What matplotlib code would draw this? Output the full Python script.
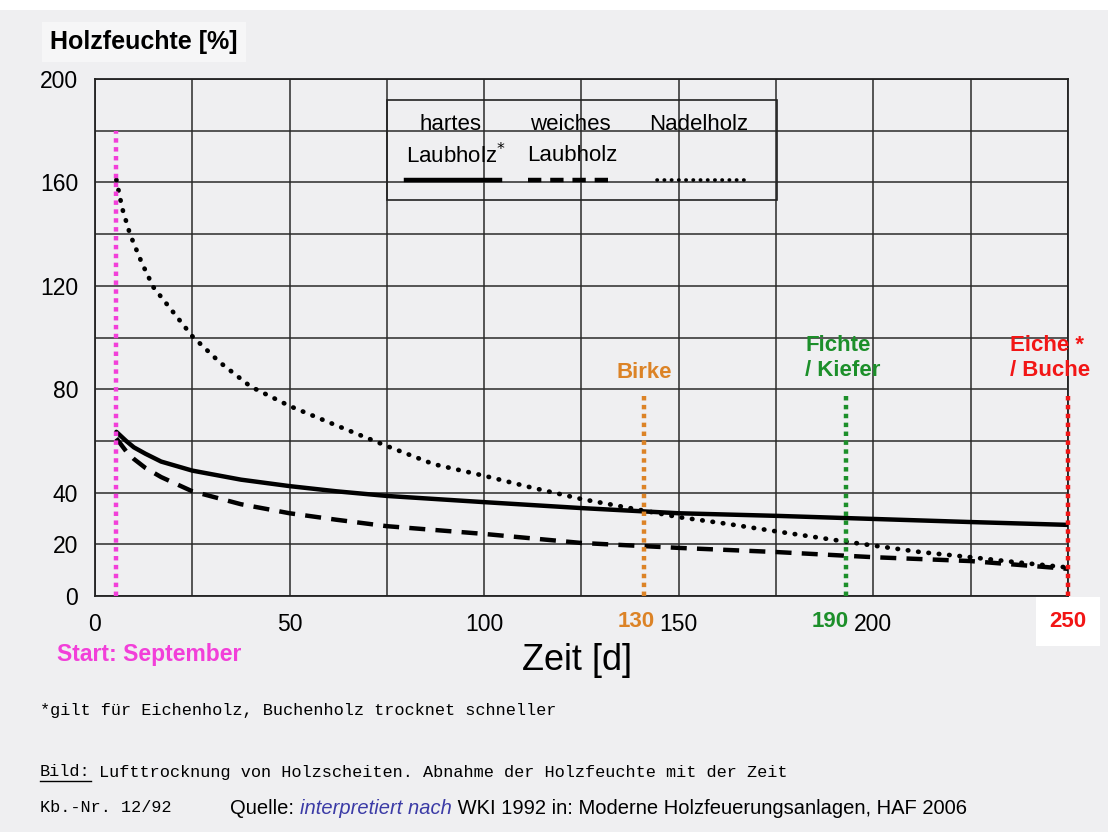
import numpy as np
import matplotlib
matplotlib.use("Agg")
import matplotlib.pyplot as plt
from matplotlib.patches import Rectangle
from matplotlib.lines import Line2D

plt.rcParams['font.family'] = ['Liberation Sans', 'DejaVu Sans']

# ---- data ----
hart_x = [5.5, 8, 10, 13, 17, 25, 37.5, 50, 62, 75, 100, 125, 150, 175, 200, 225, 250]
hart_y = [63.5, 60, 57.5, 55, 52, 48.5, 45, 42.5, 40.5, 38.7, 36.3, 34, 32, 31, 29.8, 28.6, 27.5]

weich_x = [5.5, 8, 10, 13, 17, 25, 37.5, 50, 62, 75, 100, 125, 150, 175, 200, 225, 250]
weich_y = [61, 56, 53, 49.5, 46, 40.5, 35.5, 32, 29.5, 27, 24, 20.5, 18.6, 17, 15, 13.5, 10.5]

nadel_x = [5.5, 7, 9, 12, 15, 20, 25, 32, 40, 50, 62, 75, 87, 100, 112, 125,
           141, 150, 162, 175, 193, 200, 212, 225, 237, 250]
nadel_y = [161, 150, 140, 129, 119.5, 110, 100.5, 90.5, 81, 73.5, 66, 58, 51, 46.5, 42, 37.5,
           33, 30.5, 28, 25, 21, 19.5, 17, 15, 13, 11]

# markers for drying times (as drawn)
start_x = 5.5
marker_x = [141, 193, 250]
marker_top = 79
marker_lbl = ["Birke", "Fichte\n/ Kiefer", "Eiche *\n/ Buche"]
marker_num = ["130", "190", "250"]
marker_col = ["#dc8326", "#1c8f2a", "#f21616"]

x_ticks = np.arange(0, 251, 25)
x_labels = ["0", "", "50", "", "100", "", "150", "", "200", "", ""]
y_ticks = np.arange(0, 201, 20)
y_labels = ["0", "20", "40", "", "80", "", "120", "", "160", "", "200"]

PAPER = "#efeff1"
MAGENTA = "#f23fd9"

fig = plt.figure(figsize=(11.08, 8.32), dpi=100, facecolor=PAPER)
fig.patches.append(Rectangle((0, 0.988), 1, 0.012, transform=fig.transFigure,
                             facecolor="white", edgecolor="none"))

ax = fig.add_axes([0.0857, 0.2837, 0.8782, 0.6213])
ax.set_facecolor(PAPER)
ax.set_xlim(0, 250)
ax.set_ylim(0, 200)
ax.set_xticks(x_ticks)
ax.set_xticklabels(x_labels)
ax.set_yticks(y_ticks)
ax.set_yticklabels(y_labels)
ax.tick_params(length=0, labelsize=16.5)
ax.tick_params(axis="x", pad=12)
ax.tick_params(axis="y", pad=12)
ax.grid(True, color="#2a2a2a", lw=1.1)
ax.set_axisbelow(True)
for s in ax.spines.values():
    s.set_color("#222222")
    s.set_linewidth(1.3)

# curves
ax.plot(hart_x, hart_y, color="black", lw=3.2, solid_capstyle="round", zorder=3)
ax.plot(weich_x, weich_y, color="black", lw=3.2, linestyle=(0, (3.6, 2.3)), zorder=3)
ax.plot(nadel_x, nadel_y, color="black", lw=3.4, linestyle=(0, (0.1, 2.1)),
        dash_capstyle="round", zorder=3)

# vertical marker lines
ax.plot([start_x, start_x], [0, 180], color=MAGENTA, lw=3.2,
        linestyle=(0, (1, 1)), zorder=4)
for mx, col in zip(marker_x, marker_col):
    ax.plot([mx, mx], [0, marker_top], color=col, lw=3.2,
            linestyle=(0, (1, 1)), zorder=4, clip_on=False)

lbl_pos = [(134, 86.6), (182.5, 92.0), (235, 92.0)]
for (lx, ly), txt, col in zip(lbl_pos, marker_lbl, marker_col):
    ax.text(lx, ly, txt, color=col, fontsize=16, fontweight="bold",
            ha="left", va="center", linespacing=1.28, zorder=5)

num_off = [-2, -4, 0]
for mx, off, txt, col in zip(marker_x, num_off, marker_num, marker_col):
    bb = dict(facecolor="white", edgecolor="none", pad=10) if txt == "250" else None
    ax.annotate(txt, xy=(mx + off, 0), xycoords=("data", "axes fraction"),
                xytext=(0, -18.5), textcoords="offset points", ha="center", va="center",
                color=col, fontsize=16, fontweight="bold", bbox=bb, annotation_clip=False)

# legend box
ax.add_patch(Rectangle((0.300, 0.766), 0.401, 0.193, transform=ax.transAxes,
                       fill=False, edgecolor="#222222", lw=1.2, zorder=5))
lfs = 16
ax.text(0.334, 0.913, "hartes", transform=ax.transAxes, fontsize=lfs, va="center")
ax.text(0.3196, 0.852, "Laubholz$^{*}$", transform=ax.transAxes, fontsize=lfs, va="center")
ax.text(0.447, 0.913, "weiches", transform=ax.transAxes, fontsize=lfs, va="center")
ax.text(0.444, 0.852, "Laubholz", transform=ax.transAxes, fontsize=lfs, va="center")
ax.text(0.570, 0.913, "Nadelholz", transform=ax.transAxes, fontsize=lfs, va="center")
ax.add_line(Line2D([0.3196, 0.416], [0.805, 0.805], transform=ax.transAxes,
                   color="black", lw=3.2))
ax.add_line(Line2D([0.445, 0.534], [0.805, 0.805], transform=ax.transAxes,
                   color="black", lw=3.2, linestyle=(0, (3.0, 2.0))))
ax.add_line(Line2D([0.578, 0.673], [0.805, 0.805], transform=ax.transAxes,
                   color="black", lw=2.6, linestyle=(0, (0.1, 1.9)), dash_capstyle="round"))

# axis titles
fig.text(50 / 1108, 1 - 42 / 832, "Holzfeuchte [%]", fontsize=18, fontweight="bold",
         va="center", ha="left",
         bbox=dict(facecolor="#f6f6f7", edgecolor="none", pad=6))
fig.text(577 / 1108, 1 - 660 / 832, "Zeit [d]", fontsize=26, ha="center", va="center")
fig.text(57 / 1108, 1 - 655 / 832, "Start: September", fontsize=16.5, fontweight="bold",
         color=MAGENTA, ha="left", va="center")

# footnotes
mono = ["Liberation Mono", "DejaVu Sans Mono"]
mfs = 12.2
fig.text(40 / 1108, 1 - 710 / 832, "*gilt für Eichenholz, Buchenholz trocknet schneller",
         family=mono, fontsize=mfs, va="center")
bild = fig.text(40 / 1108, 1 - 772 / 832, "Bild:", family=mono, fontsize=mfs, va="center")
fig.text(40 / 1108, 1 - 808 / 832, "Kb.-Nr. 12/92", family=mono, fontsize=mfs, va="center")

renderer = fig.canvas.get_renderer()
bb = bild.get_window_extent(renderer)
fig.add_artist(Line2D([bb.x0 / 1108, bb.x1 / 1108], [(bb.y0 - 1) / 832, (bb.y0 - 1) / 832],
                      transform=fig.transFigure, color="black", lw=1.0))
fig.text((bb.x1 + 8) / 1108, 1 - 772 / 832,
         "Lufttrocknung von Holzscheiten. Abnahme der Holzfeuchte mit der Zeit",
         family=mono, fontsize=mfs, va="center")

pieces = [("Quelle: ", "black", "normal"),
          ("interpretiert nach", "#3b3ba6", "italic"),
          (" WKI 1992 in: Moderne Holzfeuerungsanlagen, HAF 2006", "black", "normal")]
xpos = 230
for txt, col, sty in pieces:
    t = fig.text(xpos / 1108, 1 - 808 / 832, txt, color=col, style=sty,
                 fontsize=14.5, va="center", ha="left")
    xpos = t.get_window_extent(renderer).x1

fig.savefig("out.png", dpi=100, facecolor=PAPER)
